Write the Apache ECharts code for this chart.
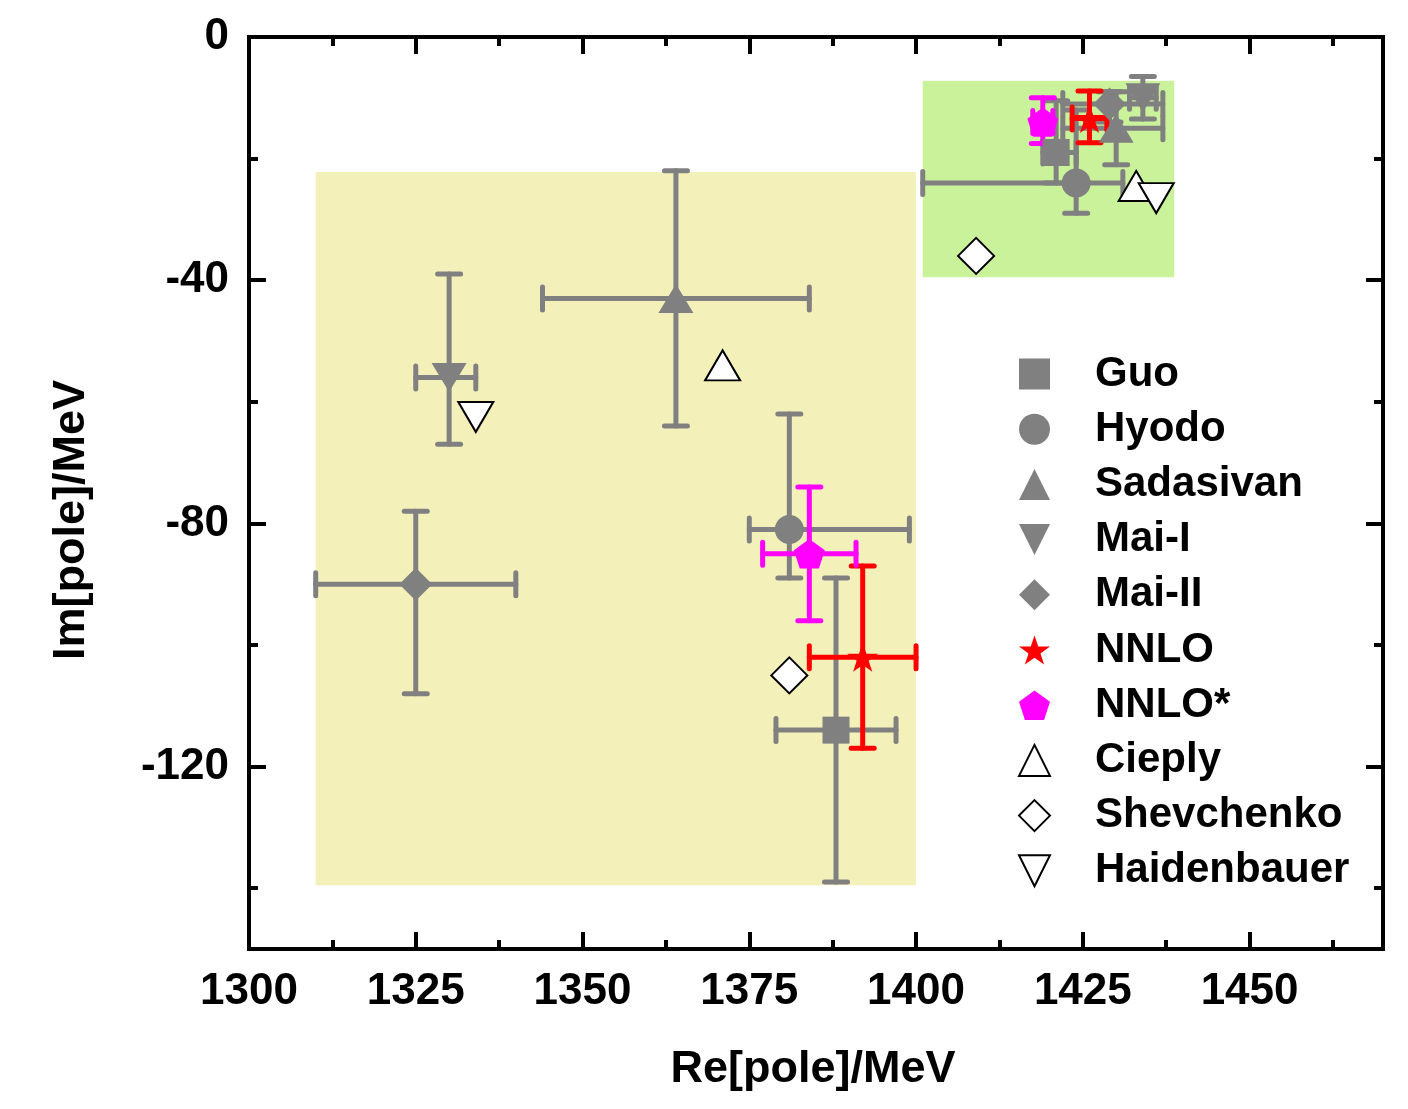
<!DOCTYPE html>
<html><head><meta charset="utf-8">
<script src="https://cdn.jsdelivr.net/npm/echarts@6/dist/echarts.min.js"></script>
<style>html,body{margin:0;padding:0;background:#fff}#c{width:1408px;height:1109px}</style>
</head><body><div id="c"></div>
<script>
// ---- axis ticks ----
const xMajorTicks = [1300, 1325, 1350, 1375, 1400, 1425, 1450];
const xMinorTicks = [1312.5, 1337.5, 1362.5, 1387.5, 1412.5, 1437.5, 1462.5];
const yMajorTicks = [0, -40, -80, -120];
const yMinorTicks = [-20, -60, -100, -140];

// ---- shaded regions: [xFrom, xTo, yFrom, yTo] ----
const yellowRegion = [1310, 1400, -139.5, -22.2];
const greenRegion = [1401, 1438.7, -39.5, -7.2];

// ---- series: points [Re, Im], x errors [minus, plus], y errors [down, up] ----
const guoPts = [[1388, -114], [1421, -19]];
const guoXErr = [[9, 9], [2, 3]];
const guoYErr = [[25, 25], [5, 8.5]];

const hyodoPts = [[1381, -81], [1424, -24]];
const hyodoXErr = [[6, 18], [23, 7]];
const hyodoYErr = [[8, 19], [5, 12]];

const sadasivanPts = [[1364, -43], [1430, -15]];
const sadasivanXErr = [[20, 20], [8, 7]];
const sadasivanYErr = [[21, 21], [6, 6]];

const maiIPts = [[1330, -56], [1434, -10]];
const maiIXErr = [[5, 4], [2, 2]];
const maiIYErr = [[11, 17], [3.5, 3.5]];

const maiIIPts = [[1325, -90], [1429, -11]];
const maiIIXErr = [[15, 15], [7, 8]];
const maiIIYErr = [[18, 12], [3, 2]];

const nnloPts = [[1392, -102], [1426, -13.4]];
const nnloXErr = [[8, 8], [2.6, 2.6]];
const nnloYErr = [[15, 15], [4, 4.5]];

const nnloStarPts = [[1384, -85], [1419, -14]];
const nnloStarXErr = [[7, 7], [1.5, 1.5]];
const nnloStarYErr = [[11, 11], [3.5, 4]];

const cieplyPts = [[1371, -54], [1433, -24.5]];
const shevchenkoPts = [[1381, -105], [1409, -36]];
const haidenbauerPts = [[1334, -62.5], [1436, -26.5]];

// ---- styles ----
const GRAY = '#808080', RED = '#ff0000', MAG = '#ff00ff';
const FONT = '"Liberation Sans", Arial, sans-serif';
const STAR = 'path://M50,0 L61.8,35.1 L98.9,35.1 L68.9,56.9 L80.3,91.9 L50,70.3 L19.7,91.9 L31.1,56.9 L1.1,35.1 L38.2,35.1 Z';
const PENT = 'path://M50,0 L100,36.3 L80.9,95.1 L19.1,95.1 L0,36.3 Z';
const DOWNTRI = 'path://M0,0 L100,0 L50,100 Z';

function errData(pts, xe, ye) {
  return pts.map((p, i) => [p[0], p[1], xe[i][0], xe[i][1], ye[i][0], ye[i][1]]);
}
function errSeries(name, pts, xe, ye, color) {
  return {
    type: 'custom', name: name + '-err', z: 3, silent: true,
    dimensions: ['x', 'y', 'xm', 'xp', 'ym', 'yp'],
    encode: { x: 0, y: 1 },
    data: errData(pts, xe, ye),
    renderItem: function (params, api) {
      const x = api.value(0), y = api.value(1);
      const l = api.coord([x - api.value(2), y]);
      const r = api.coord([x + api.value(3), y]);
      const b = api.coord([x, y - api.value(4)]);
      const t = api.coord([x, y + api.value(5)]);
      const cap = 11.5;
      const st = { stroke: color, lineWidth: 5, lineCap: 'round' };
      const ln = (x1, y1, x2, y2) => ({ type: 'line', shape: { x1, y1, x2, y2 }, style: st });
      return {
        type: 'group', children: [
          ln(l[0], l[1], r[0], r[1]),
          ln(b[0], b[1], t[0], t[1]),
          ln(l[0], l[1] - cap, l[0], l[1] + cap),
          ln(r[0], r[1] - cap, r[0], r[1] + cap),
          ln(b[0] - cap, b[1], b[0] + cap, b[1]),
          ln(t[0] - cap, t[1], t[0] + cap, t[1])
        ]
      };
    }
  };
}
function markSeries(name, pts, symbol, size, fill, border) {
  return {
    type: 'scatter', name: name, z: 5, data: pts, symbol: symbol, symbolSize: size,
    symbolKeepAspect: true,
    itemStyle: { color: fill, borderColor: border ? '#000' : fill, borderWidth: border ? 2 : 0, opacity: 1 },
    emphasis: { disabled: true }
  };
}
function regionSeries(name, reg, color) {
  return {
    type: 'custom', name: name, z: 1, silent: true,
    dimensions: ['x0', 'x1', 'y0', 'y1'],
    encode: { x: [0, 1], y: [2, 3] },
    data: [reg],
    renderItem: function (params, api) {
      const p0 = api.coord([api.value(0), api.value(3)]);
      const p1 = api.coord([api.value(1), api.value(2)]);
      return { type: 'rect', shape: { x: p0[0], y: p0[1], width: p1[0] - p0[0], height: p1[1] - p0[1] }, style: { fill: color } };
    }
  };
}

const legendNames = ['Guo', 'Hyodo', 'Sadasivan', 'Mai-I', 'Mai-II', 'NNLO', 'NNLO*', 'Cieply', 'Shevchenko', 'Haidenbauer'];

function xAx(pos, ticks, len, labels) {
  return {
    type: 'value', position: pos, min: 1300, max: 1470,
    axisLine: { show: true, onZero: false, lineStyle: { color: '#000', width: 4, cap: 'square' } },
    axisTick: { show: true, inside: true, length: len, customValues: ticks, lineStyle: { color: '#000', width: 4 } },
    axisLabel: labels ? { show: true, customValues: ticks, formatter: v => String(v), fontSize: 44, fontWeight: 'bold', fontFamily: FONT, color: '#000', margin: 21 } : { show: false },
    splitLine: { show: false }, minorTick: { show: false }
  };
}
function yAx(pos, ticks, len, labels) {
  return {
    type: 'value', position: pos, min: -150, max: 0,
    axisLine: { show: true, onZero: false, lineStyle: { color: '#000', width: 4, cap: 'square' } },
    axisTick: { show: true, inside: true, length: len, customValues: ticks, lineStyle: { color: '#000', width: 4 } },
    axisLabel: labels ? { show: true, customValues: ticks, formatter: v => String(v), fontSize: 44, fontWeight: 'bold', fontFamily: FONT, color: '#000', margin: 20 } : { show: false },
    splitLine: { show: false }, minorTick: { show: false }
  };
}

const chart = echarts.init(document.getElementById('c'), null, { renderer: 'canvas' });
chart.setOption({
  animation: false,
  backgroundColor: '#fff',
  grid: { left: 249, top: 37, width: 1134, height: 912 },
  xAxis: [xAx('bottom', xMajorTicks, 17, true), xAx('bottom', xMinorTicks, 9, false), xAx('top', xMajorTicks, 17, false), xAx('top', xMinorTicks, 9, false)],
  yAxis: [yAx('left', yMajorTicks, 17, true), yAx('left', yMinorTicks, 9, false), yAx('right', yMajorTicks, 17, false), yAx('right', yMinorTicks, 9, false)],
  legend: {
    orient: 'vertical', left: 1018, top: 353, padding: 0,
    itemWidth: 31, itemHeight: 31, itemGap: 13.2, selectedMode: false,
    data: legendNames,
    textStyle: { fontSize: 42, fontWeight: 'bold', fontFamily: FONT, color: '#000', lineHeight: 42, padding: [0, 0, 0, 40] }
  },
  graphic: [
    { type: 'text', x: 813, y: 1070, style: { text: 'Re[pole]/MeV', font: 'bold 45px ' + FONT, fill: '#000', align: 'center', verticalAlign: 'middle' } },
    { type: 'text', x: 72, y: 520, rotation: Math.PI / 2, style: { text: 'Im[pole]/MeV', font: 'bold 45px ' + FONT, fill: '#000', align: 'center', verticalAlign: 'middle' } }
  ],
  series: [
    regionSeries('yellow', yellowRegion, '#f4f0ba'),
    regionSeries('green', greenRegion, '#c9f29b'),
    errSeries('Guo', guoPts, guoXErr, guoYErr, GRAY),
    errSeries('Hyodo', hyodoPts, hyodoXErr, hyodoYErr, GRAY),
    errSeries('Sadasivan', sadasivanPts, sadasivanXErr, sadasivanYErr, GRAY),
    errSeries('Mai-I', maiIPts, maiIXErr, maiIYErr, GRAY),
    errSeries('Mai-II', maiIIPts, maiIIXErr, maiIIYErr, GRAY),
    errSeries('NNLO', nnloPts, nnloXErr, nnloYErr, RED),
    errSeries('NNLO*', nnloStarPts, nnloStarXErr, nnloStarYErr, MAG),
    markSeries('Guo', guoPts, 'rect', [27, 27], GRAY, false),
    markSeries('Hyodo', hyodoPts, 'circle', [29, 29], GRAY, false),
    markSeries('Sadasivan', sadasivanPts, 'triangle', [35, 29], GRAY, false),
    markSeries('Mai-I', maiIPts, DOWNTRI, [35, 29], GRAY, false),
    markSeries('Mai-II', maiIIPts, 'diamond', [33, 33], GRAY, false),
    markSeries('NNLO', nnloPts, STAR, [31, 31], RED, false),
    markSeries('NNLO*', nnloStarPts, PENT, [31, 31], MAG, false),
    markSeries('Cieply', cieplyPts, 'triangle', [35, 30], '#fff', true),
    markSeries('Shevchenko', shevchenkoPts, 'diamond', [36, 36], '#fff', true),
    markSeries('Haidenbauer', haidenbauerPts, DOWNTRI, [35, 30], '#fff', true)
  ]
});
</script></body></html>
